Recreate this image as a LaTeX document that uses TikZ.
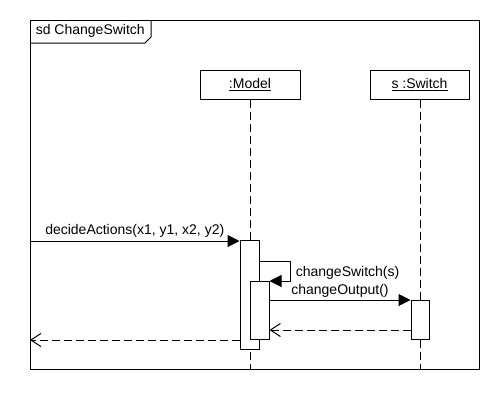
\documentclass[tikz,border=0pt]{standalone}
\usepackage{fontspec}
\setmainfont{Liberation Sans}
\usetikzlibrary{arrows.meta}

\begin{document}
\begin{tikzpicture}[x=1pt,y=-1pt,line width=1pt,
      font=\fontsize{14}{16}\selectfont,
      obj/.style={draw,minimum height=29pt,inner sep=0pt},
      act/.style={draw,fill=white,minimum width=19pt,inner sep=0pt,anchor=north},
      life/.style={dash pattern=on 8pt off 4pt},
      call/.style={-{Triangle[length=12pt,width=12pt]}},
      reply/.style={dash pattern=on 8pt off 4pt,-{Straight Barb[length=10pt,width=13pt]}}]
      \useasboundingbox (0,0) rectangle (500,410);
      % frame
      \draw (30,20) rectangle (479,369);
      \draw (30,43) -- (145,43) -- (151,37) -- (151,20);
      \node[anchor=west] (title) at (32,31) {sd ChangeSwitch};
      % lifelines
      \node[obj,minimum width=100pt] (model) at (250,84.5) {\underline{:Model}};
      \node[obj,minimum width=99pt] (switch) at (419.5,84.5) {\underline{s :Switch}};
      \coordinate (modelend) at (250,369);
      \coordinate (switchend) at (420,369);
      \draw[life] (model) -- (modelend);
      \draw[life] (switch.south -| switchend) -- (switchend);
      % activations
      \node[act,minimum height=109pt] (mact) at (249.5,240) {};
      \node[act,minimum height=58pt] (nact) at (259.5,281) {};
      \node[act,minimum width=18pt,minimum height=39pt] (sact) at (420,300) {};
      % messages
      \coordinate (in) at (30,241);
      \coordinate (out) at (30,340);
      \draw[call] (in) -- node[above] {decideActions(x1, y1, x2, y2)} (in -| mact.west);
      \draw[call] (mact.east |- 0,261) -- (290,261) -- (290,281) -- (nact.north east);
      \node[anchor=west] (switchlabel) at (292,273) {changeSwitch(s)};
      \draw[call] (nact.east |- sact.north) -- node[above,inner sep=2pt] {changeOutput()} (sact.north west);
      \draw[reply] (sact.west |- 0,330) -- (nact.east |- 0,330);
      \draw[reply] (mact.west |- out) -- (out);
    \end{tikzpicture}
\end{document}
